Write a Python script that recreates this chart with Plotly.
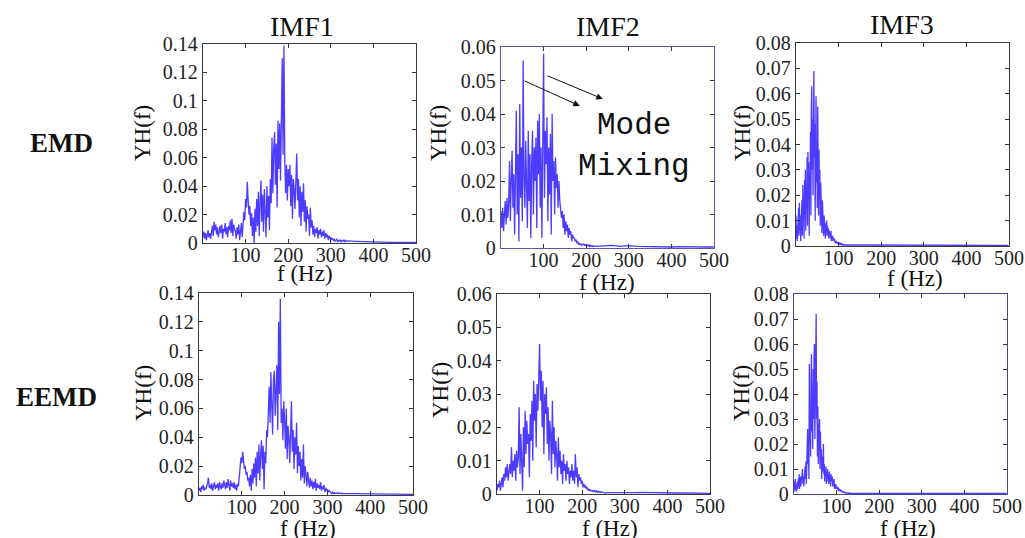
import numpy as np
import plotly.graph_objects as go

# ---------------- data ----------------
# Head spectra are sampled on a regular grid (step in Hz), tails on a coarse grid.
emd_imf1_step = 2
emd_imf1_head = [
    0.004, 0.008, 0.003, 0.007, 0.002, 0.006, 0.009, 0.004, 0.007, 0.003,
    0.008, 0.012, 0.005, 0.015, 0.009, 0.013, 0.006, 0.011, 0.004, 0.010,
    0.012, 0.007, 0.013, 0.003, 0.010, 0.008, 0.014, 0.006, 0.011, 0.004,
    0.012, 0.009, 0.016, 0.007, 0.017, 0.005, 0.013, 0.010, 0.008, 0.003,
    0.011, 0.006, 0.013, 0.002, 0.009, 0.014, 0.004, 0.018, 0.022, 0.016,
    0.031, 0.025, 0.043, 0.030, 0.020, 0.026, 0.012, 0.021, 0.005, 0.018,
    0.000, 0.024, 0.008, 0.031, 0.012, 0.036, 0.005, 0.028, 0.044, 0.015,
    0.034, 0.008, 0.038, 0.022, 0.004, 0.040, 0.018, 0.033, 0.009, 0.045,
    0.028, 0.074, 0.035, 0.066, 0.078, 0.041, 0.070, 0.025, 0.086, 0.052,
    0.084, 0.044, 0.080, 0.130, 0.062, 0.139, 0.058, 0.035, 0.055, 0.030,
    0.052, 0.040, 0.055, 0.026, 0.048, 0.017, 0.045, 0.038, 0.024, 0.050,
    0.063, 0.030, 0.045, 0.018, 0.040, 0.012, 0.036, 0.022, 0.042, 0.015,
    0.030, 0.008, 0.026, 0.017, 0.020, 0.005, 0.025, 0.011, 0.016, 0.006,
    0.012, 0.004, 0.010, 0.007, 0.011, 0.003, 0.009, 0.006, 0.010, 0.004,
    0.008, 0.005, 0.009, 0.003, 0.007, 0.004, 0.006, 0.002, 0.005, 0.003,
    0.004, 0.002, 0.003, 0.002, 0.003, 0.001, 0.002, 0.003, 0.001, 0.002,
    0.002, 0.001, 0.002, 0.001, 0.0015, 0.002, 0.001, 0.002, 0.001, 0.0015,
]
emd_imf1_tail = [0.0012, 0.0009, 0.0008, 0.0006, 0.0005, 0.0005, 0.0004, 0.0004, 0.0004]

eemd_imf1_step = 2
eemd_imf1_head = [
    0.003, 0.005, 0.002, 0.006, 0.004, 0.007, 0.003, 0.005, 0.004, 0.006,
    0.008, 0.012, 0.005, 0.007, 0.004, 0.008, 0.003, 0.006, 0.009, 0.004,
    0.007, 0.005, 0.008, 0.003, 0.009, 0.006, 0.004, 0.008, 0.005, 0.010,
    0.006, 0.004, 0.009, 0.005, 0.011, 0.007, 0.003, 0.010, 0.006, 0.008,
    0.005, 0.009, 0.004, 0.007, 0.003, 0.008, 0.006, 0.012, 0.020, 0.026,
    0.022, 0.030, 0.024, 0.018, 0.020, 0.014, 0.016, 0.010, 0.012, 0.006,
    0.014, 0.003, 0.018, 0.008, 0.022, 0.012, 0.026, 0.006, 0.030, 0.015,
    0.035, 0.010, 0.028, 0.038, 0.018, 0.034, 0.004, 0.030, 0.022, 0.045,
    0.040, 0.060, 0.075, 0.050, 0.085, 0.062, 0.042, 0.080, 0.086, 0.055,
    0.074, 0.090, 0.045, 0.120, 0.070, 0.136, 0.050, 0.060, 0.038, 0.065,
    0.052, 0.032, 0.060, 0.025, 0.048, 0.040, 0.022, 0.056, 0.065, 0.030,
    0.045, 0.018, 0.040, 0.028, 0.050, 0.015, 0.034, 0.020, 0.030, 0.010,
    0.025, 0.012, 0.035, 0.008, 0.020, 0.014, 0.006, 0.016, 0.010, 0.005,
    0.012, 0.006, 0.010, 0.004, 0.009, 0.005, 0.011, 0.003, 0.008, 0.005,
    0.007, 0.004, 0.009, 0.003, 0.006, 0.004, 0.007, 0.002, 0.005, 0.003,
    0.004, 0.002, 0.003, 0.002, 0.002, 0.001, 0.002, 0.001, 0.0015, 0.001,
    0.0015, 0.001, 0.001, 0.0015, 0.001, 0.001, 0.0012, 0.001, 0.0008, 0.001,
]
eemd_imf1_tail = [0.001, 0.0009, 0.0008, 0.0008, 0.0007, 0.0006, 0.0006, 0.0006, 0.0005]

emd_imf2_step = 2
emd_imf2_head = [
    0.011, 0.006, 0.012, 0.005, 0.010, 0.014, 0.007, 0.015, 0.009, 0.013,
    0.026, 0.008, 0.020, 0.029, 0.012, 0.022, 0.004, 0.033, 0.041, 0.010,
    0.028, 0.002, 0.043, 0.015, 0.030, 0.008, 0.056, 0.020, 0.012, 0.032,
    0.018, 0.006, 0.035, 0.014, 0.028, 0.003, 0.025, 0.035, 0.010, 0.030,
    0.020, 0.033, 0.006, 0.038, 0.022, 0.040, 0.012, 0.030, 0.003, 0.036,
    0.058, 0.015, 0.035, 0.025, 0.039, 0.008, 0.030, 0.016, 0.034, 0.004,
    0.040, 0.020, 0.026, 0.010, 0.027, 0.018, 0.022, 0.012, 0.020, 0.014,
    0.012, 0.009, 0.011, 0.006, 0.010, 0.004, 0.008, 0.005, 0.007, 0.003,
    0.006, 0.004, 0.005, 0.002, 0.004, 0.003, 0.003, 0.002, 0.0025, 0.0015,
    0.002, 0.001, 0.0015, 0.001, 0.0012, 0.0008, 0.001, 0.0012, 0.0008, 0.001,
    0.0007, 0.001, 0.0006, 0.0009, 0.0005, 0.0008, 0.0005, 0.0007, 0.0004, 0.0006, 0.0005,
]
emd_imf2_tail = [0.0006, 0.0008, 0.0005, 0.0007, 0.0005, 0.0004, 0.0005, 0.0004,
                 0.0003, 0.0004, 0.0003, 0.0003, 0.0003, 0.0003]

eemd_imf2_step = 2
eemd_imf2_head = [
    0.001, 0.003, 0.002, 0.004, 0.001, 0.003, 0.005, 0.002, 0.006, 0.004,
    0.008, 0.005, 0.009, 0.004, 0.007, 0.009, 0.006, 0.014, 0.005, 0.010,
    0.007, 0.012, 0.004, 0.013, 0.008, 0.011, 0.026, 0.006, 0.018, 0.003,
    0.001, 0.020, 0.008, 0.025, 0.012, 0.022, 0.015, 0.018, 0.005, 0.024,
    0.016, 0.028, 0.010, 0.034, 0.022, 0.030, 0.014, 0.033, 0.025, 0.035,
    0.045, 0.028, 0.037, 0.020, 0.034, 0.012, 0.030, 0.024, 0.032, 0.015,
    0.026, 0.010, 0.022, 0.018, 0.006, 0.028, 0.012, 0.020, 0.008, 0.016,
    0.012, 0.004, 0.017, 0.008, 0.013, 0.006, 0.010, 0.003, 0.012, 0.007,
    0.009, 0.004, 0.010, 0.006, 0.008, 0.003, 0.007, 0.005, 0.009, 0.004,
    0.007, 0.003, 0.012, 0.005, 0.008, 0.002, 0.006, 0.004, 0.005, 0.003,
    0.004, 0.002, 0.003, 0.002, 0.0025, 0.0015, 0.002, 0.001, 0.0015, 0.001,
    0.0012, 0.001, 0.0008, 0.0012, 0.0007, 0.001, 0.0006, 0.0009, 0.0005, 0.0008,
    0.0005, 0.0007, 0.0004, 0.0006, 0.0005, 0.0004, 0.0005, 0.0003, 0.0004, 0.0003, 0.0004,
]
eemd_imf2_tail = [0.0004, 0.0003, 0.0004, 0.0005, 0.0004, 0.0003, 0.0004, 0.0003,
                  0.0003, 0.0003, 0.0002, 0.0002]

emd_imf3_step = 1
emd_imf3_head = [
    0.012, 0.003, 0.008, 0.002, 0.010, 0.005, 0.015, 0.004, 0.017, 0.006,
    0.012, 0.002, 0.014, 0.007, 0.018, 0.004, 0.024, 0.010, 0.020, 0.003,
    0.026, 0.012, 0.030, 0.006, 0.022, 0.015, 0.035, 0.008, 0.037, 0.018,
    0.033, 0.004, 0.028, 0.022, 0.045, 0.012, 0.055, 0.063, 0.030, 0.050,
    0.020, 0.060, 0.069, 0.035, 0.048, 0.010, 0.052, 0.059, 0.025, 0.040,
    0.015, 0.055, 0.030, 0.012, 0.038, 0.020, 0.030, 0.008, 0.025, 0.014,
    0.020, 0.005, 0.018, 0.010, 0.015, 0.004, 0.012, 0.008, 0.011, 0.003,
    0.009, 0.006, 0.010, 0.004, 0.008, 0.005, 0.007, 0.003, 0.006, 0.004,
    0.005, 0.003, 0.006, 0.002, 0.004, 0.003, 0.004, 0.002, 0.003, 0.002,
    0.003, 0.0015, 0.002, 0.001, 0.002, 0.0012, 0.0015, 0.001, 0.0012, 0.0008,
    0.001, 0.0012, 0.0008, 0.001, 0.0007, 0.0009, 0.0006, 0.0008, 0.0005, 0.0007,
    0.0005, 0.0006, 0.0004, 0.0006, 0.0005, 0.0004, 0.0005, 0.0004, 0.0003, 0.0004,
]
emd_imf3_tail = [0.0004, 0.0003, 0.0004, 0.0003, 0.0003, 0.0003, 0.0003, 0.0002, 0.0003,
                 0.0002, 0.0002, 0.0002, 0.0002, 0.0002, 0.0002, 0.0002, 0.0002, 0.0002,
                 0.0002]

eemd_imf3_step = 1
eemd_imf3_head = [
    0.003, 0.005, 0.001, 0.006, 0.002, 0.004, 0.001, 0.003, 0.005, 0.002,
    0.006, 0.003, 0.008, 0.002, 0.005, 0.007, 0.003, 0.006, 0.004, 0.008,
    0.010, 0.004, 0.007, 0.003, 0.009, 0.005, 0.011, 0.006, 0.013, 0.004,
    0.015, 0.008, 0.026, 0.012, 0.018, 0.006, 0.052, 0.020, 0.035, 0.015,
    0.045, 0.056, 0.025, 0.040, 0.018, 0.050, 0.030, 0.055, 0.060, 0.022,
    0.038, 0.058, 0.072, 0.030, 0.045, 0.015, 0.035, 0.012, 0.028, 0.018,
    0.030, 0.010, 0.025, 0.014, 0.018, 0.006, 0.015, 0.009, 0.012, 0.020,
    0.008, 0.012, 0.005, 0.010, 0.007, 0.011, 0.004, 0.009, 0.006, 0.010,
    0.005, 0.008, 0.004, 0.009, 0.006, 0.007, 0.003, 0.008, 0.005, 0.006,
    0.007, 0.003, 0.005, 0.004, 0.006, 0.002, 0.004, 0.003, 0.004, 0.002,
    0.003, 0.002, 0.003, 0.0015, 0.0025, 0.001, 0.002, 0.0015, 0.002, 0.001,
    0.0015, 0.001, 0.0012, 0.0008, 0.001, 0.0009, 0.0007, 0.0008, 0.0006, 0.0007,
    0.0005, 0.0006, 0.0005, 0.0004, 0.0005, 0.0004, 0.0004, 0.0003, 0.0004, 0.0003,
    0.0003, 0.0004, 0.0003, 0.0003, 0.0003, 0.0002, 0.0003, 0.0002, 0.0003, 0.0002,
]
eemd_imf3_tail = [0.0002, 0.0002, 0.0002, 0.0002, 0.0002, 0.0002, 0.0002, 0.0002, 0.0002,
                  0.0002, 0.0002, 0.0002, 0.0002, 0.0002, 0.0002, 0.0002, 0.0002, 0.0002]
tail_step = 20

column_titles = ["IMF1", "IMF2", "IMF3"]
row_titles = ["EMD", "EEMD"]
x_ticks = [100, 200, 300, 400, 500]
x_tick_text = ["100", "200", "300", "400", "500"]
y_ticks_imf1 = [0, 0.02, 0.04, 0.06, 0.08, 0.1, 0.12, 0.14]
y_ticks_imf2 = [0, 0.01, 0.02, 0.03, 0.04, 0.05, 0.06]
y_ticks_imf3 = [0, 0.01, 0.02, 0.03, 0.04, 0.05, 0.06, 0.07, 0.08]

# ---------------- figure ----------------
W, H = 1025, 538
LINE = "#4b3cff"
SERIF = "Liberation Serif, Times New Roman, serif"


def px_x(p):
    return p / W


def px_y(p):
    return 1 - p / H


def tick_text(vals):
    return ["0" if v == 0 else ("%g" % v) for v in vals]


panels = [
    # (head, step, tail, yticks, ymax, x-domain px, y-domain px, frame colour)
    (emd_imf1_head, emd_imf1_step, emd_imf1_tail, y_ticks_imf1, 0.14, (203, 416), (44, 243), "#3a3a3a"),
    (emd_imf2_head, emd_imf2_step, emd_imf2_tail, y_ticks_imf2, 0.06, (501, 714), (47, 248), "#5c57a0"),
    (emd_imf3_head, emd_imf3_step, emd_imf3_tail, y_ticks_imf3, 0.08, (796, 1009), (43, 246), "#3a3a3a"),
    (eemd_imf1_head, eemd_imf1_step, eemd_imf1_tail, y_ticks_imf1, 0.14, (199, 413), (293, 495), "#3a3a3a"),
    (eemd_imf2_head, eemd_imf2_step, eemd_imf2_tail, y_ticks_imf2, 0.06, (497, 710), (294, 494), "#3a3a3a"),
    (eemd_imf3_head, eemd_imf3_step, eemd_imf3_tail, y_ticks_imf3, 0.08, (794, 1007), (294, 494), "#4a4690"),
]

fig = go.Figure()
layout = {}
annotations = []

for i, (head, step, tail, yt, ymax, xd, yd, fc) in enumerate(panels):
    n = i + 1
    xa = "x" if n == 1 else f"x{n}"
    ya = "y" if n == 1 else f"y{n}"
    f_head = np.arange(len(head)) * step
    f_tail = f_head[-1] + tail_step * (np.arange(len(tail)) + 1)
    f_tail = np.minimum(f_tail, 500)
    freq = np.concatenate([f_head, f_tail])
    vals = np.concatenate([np.array(head), np.array(tail)])
    fig.add_trace(go.Scatter(x=freq, y=vals, mode="lines",
                             line=dict(color=LINE, width=1.3),
                             xaxis=xa, yaxis=ya, showlegend=False,
                             hoverinfo="skip"))
    axis_common = dict(showgrid=False, zeroline=False, showline=True, linecolor=fc,
                       linewidth=1.3, mirror="ticks", ticks="inside", ticklen=4,
                       tickcolor="#333333", tickwidth=1, automargin=False,
                       tickfont=dict(family=SERIF, size=20, color="#222222"))
    layout["xaxis" if n == 1 else f"xaxis{n}"] = dict(
        axis_common, domain=[px_x(xd[0]), px_x(xd[1])], range=[0, 500],
        tickvals=x_ticks, ticktext=x_tick_text, anchor=ya, fixedrange=True,
        ticklabelstandoff=-6)
    layout["yaxis" if n == 1 else f"yaxis{n}"] = dict(
        axis_common, domain=[px_y(yd[1]), px_y(yd[0])], range=[0, ymax],
        tickvals=yt, ticktext=tick_text(yt), anchor=xa, fixedrange=True)

# column titles
for t, (cx, cy) in zip(column_titles, [(302, 26), (608, 27), (902, 24)]):
    annotations.append(dict(text=t, x=px_x(cx), y=px_y(cy), xref="paper", yref="paper",
                            showarrow=False, xanchor="center", yanchor="middle",
                            font=dict(family=SERIF, size=28, color="#111111")))
# row titles
for t, (cx, cy) in zip(row_titles, [(61, 143), (56, 397)]):
    annotations.append(dict(text="<b>%s</b>" % t, x=px_x(cx), y=px_y(cy), xref="paper",
                            yref="paper", showarrow=False, xanchor="center", yanchor="middle",
                            font=dict(family=SERIF, size=27, color="#111111")))
# y labels
for (cx, cy) in [(143, 133), (439, 133), (743, 133), (143, 393), (440, 390), (741, 393)]:
    annotations.append(dict(text="YH(f)", x=px_x(cx), y=px_y(cy), xref="paper", yref="paper",
                            showarrow=False, textangle=-90, xanchor="center", yanchor="middle",
                            font=dict(family=SERIF, size=23, color="#111111")))
# x labels
for (cx, cy) in [(305, 273), (607, 282), (915, 278), (308, 528), (610, 528), (908, 528)]:
    annotations.append(dict(text="f (Hz)", x=px_x(cx), y=px_y(cy), xref="paper", yref="paper",
                            showarrow=False, xanchor="center", yanchor="middle",
                            font=dict(family=SERIF, size=23, color="#111111")))

# Mode mixing arrows (panel 2)
for (tx, ty, hx, hy) in [(51.6, 0.0501, 185, 0.0424), (105.5, 0.0516, 239, 0.0445)]:
    annotations.append(dict(x=hx, y=hy, ax=tx, ay=ty, xref="x2", yref="y2", axref="x2",
                            ayref="y2", text="", showarrow=True, arrowhead=2, arrowsize=1.3,
                            arrowwidth=1, arrowcolor="#111111"))
for t, (cx, cy) in zip(["Mode", "Mixing"], [(634, 126), (634, 167)]):
    annotations.append(dict(text=t, x=px_x(cx), y=px_y(cy), xref="paper", yref="paper",
                            showarrow=False, xanchor="center", yanchor="middle",
                            font=dict(family="Liberation Mono, Courier New, monospace",
                                      size=31, color="#111111")))

fig.update_layout(**layout)
fig.update_layout(annotations=annotations, width=W, height=H, autosize=False,
                  margin=dict(l=0, r=0, t=0, b=0, pad=0),
                  paper_bgcolor="white", plot_bgcolor="white", showlegend=False)
# remove the default page margin so the 1025x538 figure fills the window exactly
fig.write_html("out.html",
               config={"displayModeBar": False, "staticPlot": True},
               post_script="document.body.style.margin='0';"
                           "document.body.style.overflow='hidden';")
